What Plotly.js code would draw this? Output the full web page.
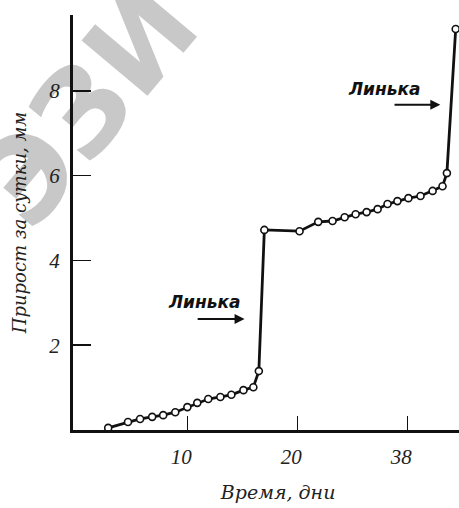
<!DOCTYPE html>
<html>
<head>
<meta charset="utf-8">
<script src="https://cdn.plot.ly/plotly-3.0.1.min.js"></script>
<style>html,body{margin:0;padding:0;background:#fff;}#chart{width:459px;height:508px;}</style>
</head>
<body>
<div id="chart"></div>
<script>
// Data
const days = [2.8, 4.6, 5.7, 6.8, 7.8, 8.9, 10.0, 10.9, 11.9, 13.0, 14.0, 15.1, 16.0, 16.5,
              17.0, 20.2, 21.9, 23.2, 24.3, 25.3, 26.3, 27.3, 28.2, 29.1, 30.1, 31.2, 32.3, 33.2, 33.6, 34.4];
const growth = [0.05, 0.19, 0.26, 0.31, 0.35, 0.42, 0.54, 0.64, 0.73, 0.78, 0.83, 0.94, 1.01, 1.39,
                4.72, 4.69, 4.91, 4.93, 5.02, 5.09, 5.14, 5.21, 5.33, 5.40, 5.47, 5.52, 5.64, 5.75, 6.06, 9.46];
const xTickVals = [10, 20, 30];
const xTickText = ['10', '20', '38'];
const yTickVals = [2, 4, 6, 8];
const yTickText = ['2', '4', '6', '8'];
const moltLabel = 'Линька';
const moltText = [[11.6, 3.02], [27.9, 8.04]];
const moltArrow = [[10.8, 15.2, 2.62], [28.7, 33.0, 7.67]];
const watermark = 'ЭЗИ';

const serif = '"Liberation Serif", "DejaVu Serif", serif';
const serifWide = '"DejaVu Serif", "Liberation Serif", serif';
const annotations = [];
moltText.forEach(function (p) {
  annotations.push({x: p[0], y: p[1], xref: 'x', yref: 'y', text: '<b><i>' + moltLabel + '</i></b>',
    showarrow: false, font: {family: '"DejaVu Sans", sans-serif', size: 17, color: '#111'}});
});
moltArrow.forEach(function (a) {
  annotations.push({x: a[1], y: a[2], ax: a[0], ay: a[2], xref: 'x', yref: 'y', axref: 'x', ayref: 'y',
    text: '', showarrow: true, arrowhead: 2, arrowsize: 1, arrowwidth: 2, arrowcolor: '#111'});
});

const shapes = [{
  type: 'rect', xref: 'paper', yref: 'paper', x0: -0.082, x1: 0.118, y0: 0.695, y1: 0.895,
  line: {width: 0}, fillcolor: 'rgba(0,0,0,0)', layer: 'below',
  label: {text: '<b>' + watermark + '</b>', textangle: -50, textposition: 'middle center',
    font: {family: '"DejaVu Sans", sans-serif', size: 118, color: '#c8c8c8'}}
}];

const trace = {
  x: days, y: growth, mode: 'lines+markers', type: 'scatter',
  line: {color: '#111', width: 2.8},
  marker: {symbol: 'circle', size: 7, color: '#fff', line: {color: '#111', width: 1.6}},
  cliponaxis: false, hoverinfo: 'skip'
};

const layout = {
  width: 459, height: 508,
  margin: {l: 73, r: 0, t: 15, b: 78},
  paper_bgcolor: '#fff', plot_bgcolor: 'rgba(0,0,0,0)',
  showlegend: false,
  xaxis: {
    range: [-0.4, 34.7], showgrid: false, zeroline: false,
    showline: true, linewidth: 3, linecolor: '#111',
    ticks: 'inside', ticklen: 14, tickwidth: 1.5, tickcolor: '#111',
    tickvals: xTickVals, ticktext: xTickText, ticklabelstandoff: 6, ticklabelshift: -6,
    tickfont: {family: serif, size: 21, color: '#222', style: 'italic'},
    title: {text: '&nbsp;&nbsp;&nbsp;&nbsp;<i>Время, дни</i>', font: {family: serifWide, size: 19, color: '#222'}, standoff: 18}
  },
  yaxis: {
    range: [0, 9.79], showgrid: false, zeroline: false,
    showline: true, linewidth: 3, linecolor: '#111',
    ticks: 'inside', ticklen: 18, tickwidth: 1.5, tickcolor: '#111',
    tickvals: yTickVals, ticktext: yTickText, ticklabelstandoff: 6,
    tickfont: {family: serif, size: 21, color: '#222', style: 'italic'},
    title: {text: '<i>Прирост за сутки, мм</i>', font: {family: serifWide, size: 18, color: '#222'}, standoff: 18}
  },
  shapes: shapes,
  annotations: annotations
};

Plotly.newPlot('chart', [trace], layout, {staticPlot: true, displayModeBar: false});
</script>
</body>
</html>
